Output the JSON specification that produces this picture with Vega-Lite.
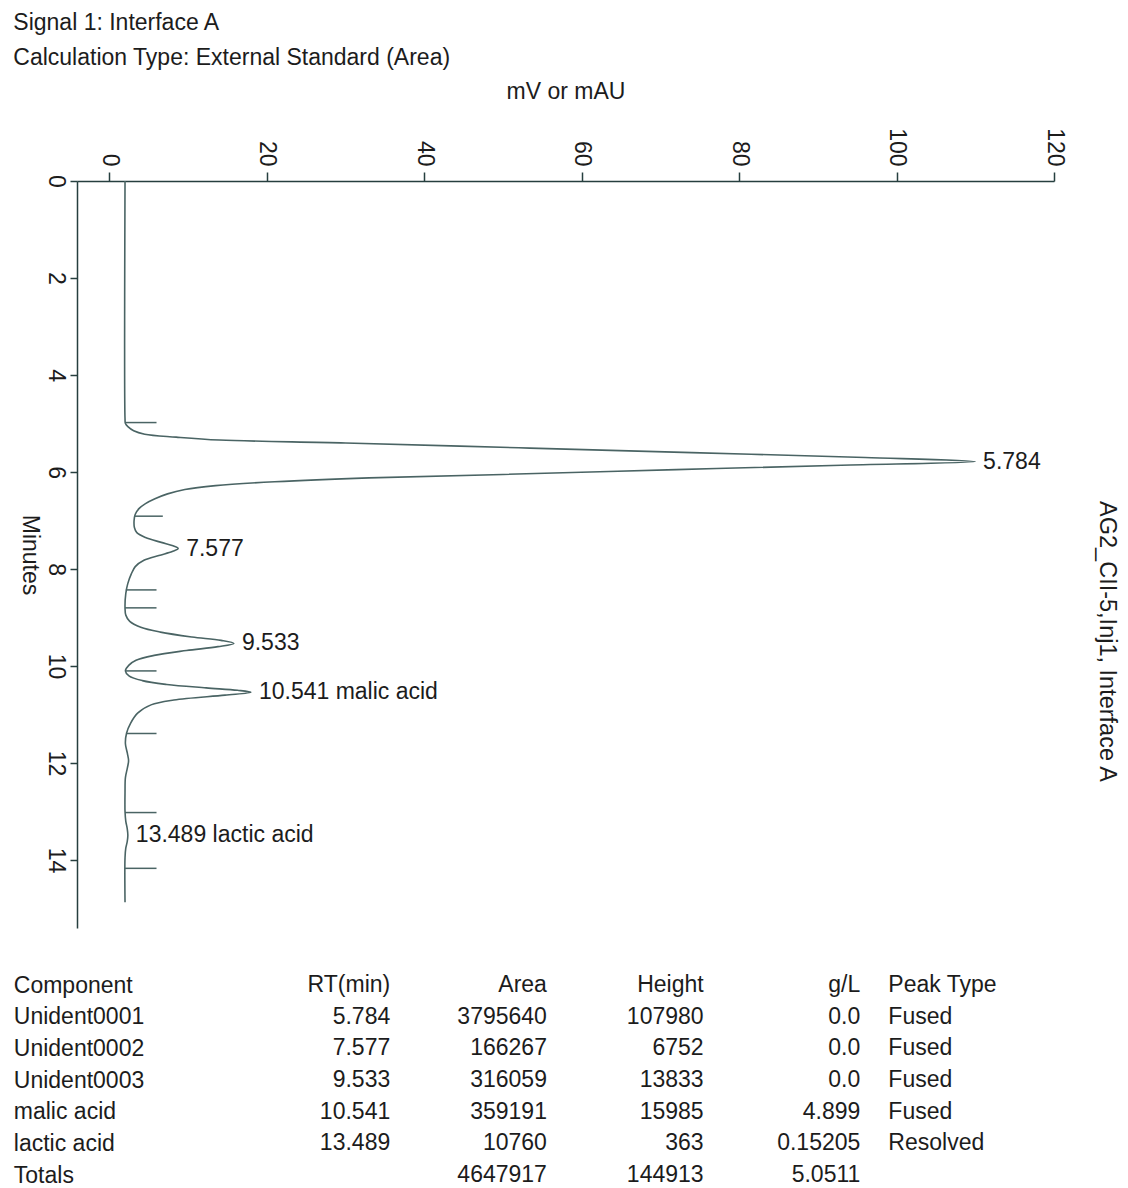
{
  "$schema": "https://vega.github.io/schema/vega-lite/v6.json",
  "background": "white",
  "padding": {"left": 13, "top": 11, "right": 14, "bottom": 0},
  "config": {
    "font": "Liberation Sans",
    "view": {"stroke": null},
    "axis": {
      "grid": false,
      "domainColor": "#263f3f",
      "tickColor": "#263f3f",
      "domainWidth": 1.5,
      "tickWidth": 1.5,
      "labelColor": "#1c1c1c",
      "titleColor": "#1c1c1c",
      "labelFont": "Liberation Sans",
      "titleFont": "Liberation Sans",
      "labelFontSize": 23,
      "titleFontSize": 23,
      "titleFontWeight": "normal"
    },
    "text": {"font": "Liberation Sans", "fontSize": 23, "color": "#1c1c1c"}
  },
  "title": {
    "text": ["Signal 1: Interface A", "Calculation Type: External Standard (Area)"],
    "anchor": "start",
    "frame": "bounds",
    "font": "Liberation Sans",
    "fontSize": 23,
    "fontWeight": "normal",
    "lineHeight": 35,
    "color": "#1c1c1c",
    "offset": 11
  },
  "datasets": {
    "trace": [
      {"min": 0, "mV": 2.0},
      {"min": 4.9, "mV": 2.0},
      {"min": 5.0, "mV": 2.05},
      {"min": 5.07, "mV": 2.4},
      {"min": 5.15, "mV": 3.1},
      {"min": 5.22, "mV": 4.5},
      {"min": 5.28, "mV": 8.5},
      {"min": 5.34, "mV": 14},
      {"min": 5.40, "mV": 30},
      {"min": 5.50, "mV": 52},
      {"min": 5.60, "mV": 74},
      {"min": 5.70, "mV": 96},
      {"min": 5.784, "mV": 109.98},
      {"min": 5.86, "mV": 93},
      {"min": 5.95, "mV": 72},
      {"min": 6.05, "mV": 50},
      {"min": 6.12, "mV": 33},
      {"min": 6.20, "mV": 21},
      {"min": 6.28, "mV": 13.5},
      {"min": 6.36, "mV": 9.6},
      {"min": 6.45, "mV": 7.4},
      {"min": 6.55, "mV": 5.8},
      {"min": 6.65, "mV": 4.6},
      {"min": 6.75, "mV": 3.8},
      {"min": 6.87, "mV": 3.3},
      {"min": 7.0, "mV": 3.15},
      {"min": 7.15, "mV": 3.2},
      {"min": 7.25, "mV": 3.5},
      {"min": 7.35, "mV": 4.6},
      {"min": 7.45, "mV": 6.6},
      {"min": 7.52, "mV": 8.1},
      {"min": 7.577, "mV": 8.75},
      {"min": 7.64, "mV": 8.0},
      {"min": 7.72, "mV": 6.3},
      {"min": 7.82, "mV": 4.4},
      {"min": 7.95, "mV": 3.3},
      {"min": 8.1, "mV": 2.8},
      {"min": 8.3, "mV": 2.35},
      {"min": 8.5, "mV": 2.1},
      {"min": 8.8, "mV": 2.0},
      {"min": 8.95, "mV": 2.1},
      {"min": 9.08, "mV": 2.6},
      {"min": 9.2, "mV": 4.0},
      {"min": 9.3, "mV": 6.5},
      {"min": 9.4, "mV": 10.5},
      {"min": 9.47, "mV": 14.2},
      {"min": 9.533, "mV": 15.83},
      {"min": 9.60, "mV": 13.8},
      {"min": 9.68, "mV": 9.8},
      {"min": 9.78, "mV": 5.7},
      {"min": 9.88, "mV": 3.4},
      {"min": 9.98, "mV": 2.5},
      {"min": 10.1, "mV": 2.05},
      {"min": 10.2, "mV": 2.5},
      {"min": 10.3, "mV": 4.2},
      {"min": 10.38, "mV": 7.3},
      {"min": 10.45, "mV": 12.3},
      {"min": 10.50, "mV": 16.3},
      {"min": 10.541, "mV": 17.99},
      {"min": 10.60, "mV": 14.7},
      {"min": 10.70, "mV": 8.2},
      {"min": 10.80, "mV": 5.3},
      {"min": 10.97, "mV": 3.6},
      {"min": 11.18, "mV": 2.7},
      {"min": 11.38, "mV": 2.2},
      {"min": 11.6, "mV": 2.05},
      {"min": 11.8, "mV": 2.3},
      {"min": 11.95, "mV": 2.45},
      {"min": 12.1, "mV": 2.3},
      {"min": 12.3, "mV": 2.05},
      {"min": 12.6, "mV": 2.0},
      {"min": 13.0, "mV": 2.0},
      {"min": 13.2, "mV": 2.1},
      {"min": 13.35, "mV": 2.28},
      {"min": 13.489, "mV": 2.36},
      {"min": 13.62, "mV": 2.28},
      {"min": 13.75, "mV": 2.1},
      {"min": 13.95, "mV": 2.0},
      {"min": 14.87, "mV": 2.0}
    ],
    "markers": [
      {"min": 4.98, "from": 2.0, "to": 6.0},
      {"min": 6.91, "from": 3.2, "to": 6.8},
      {"min": 8.43, "from": 2.1, "to": 6.0},
      {"min": 8.80, "from": 2.0, "to": 6.0},
      {"min": 10.10, "from": 2.05, "to": 6.0},
      {"min": 11.39, "from": 2.2, "to": 6.0},
      {"min": 13.02, "from": 2.0, "to": 6.0},
      {"min": 14.17, "from": 2.0, "to": 6.0}
    ],
    "peaks": [
      {"rt": 5.784, "apex": 109.98, "label": "5.784"},
      {"rt": 7.577, "apex": 8.75, "label": "7.577"},
      {"rt": 9.533, "apex": 15.83, "label": "9.533"},
      {"rt": 10.541, "apex": 17.99, "label": "10.541 malic acid"},
      {"rt": 13.489, "apex": 2.36, "label": "13.489 lactic acid"}
    ],
    "table": [
      {"comp": "Component", "rt": "RT(min)", "area": "Area", "height": "Height", "gl": "g/L", "type": "Peak Type"},
      {"comp": "Unident0001", "rt": "5.784", "area": "3795640", "height": "107980", "gl": "0.0", "type": "Fused"},
      {"comp": "Unident0002", "rt": "7.577", "area": "166267", "height": "6752", "gl": "0.0", "type": "Fused"},
      {"comp": "Unident0003", "rt": "9.533", "area": "316059", "height": "13833", "gl": "0.0", "type": "Fused"},
      {"comp": "malic acid", "rt": "10.541", "area": "359191", "height": "15985", "gl": "4.899", "type": "Fused"},
      {"comp": "lactic acid", "rt": "13.489", "area": "10760", "height": "363", "gl": "0.15205", "type": "Resolved"},
      {"comp": "Totals", "rt": "", "area": "4647917", "height": "144913", "gl": "5.0511", "type": ""}
    ]
  },
  "spacing": 46,
  "vconcat": [
    {
      "width": 977,
      "height": 747,
      "layer": [
        {
          "data": {"name": "trace"},
          "mark": {"type": "line", "interpolate": "catmull-rom", "color": "#4a6464", "strokeWidth": 1.6},
          "encoding": {
            "x": {
              "field": "mV",
              "type": "quantitative",
              "scale": {"domain": [-4.1, 120], "nice": false, "zero": false},
              "axis": {
                "orient": "top",
                "values": [0, 20, 40, 60, 80, 100, 120],
                "labelAngle": 90,
                "labelAlign": "right",
                "labelBaseline": "middle",
                "tickSize": 9,
                "labelPadding": 6,
                "title": "mV or mAU",
                "titlePadding": 24
              }
            },
            "y": {
              "field": "min",
              "type": "quantitative",
              "scale": {"domain": [0, 15.4], "nice": false, "zero": false, "reverse": true},
              "axis": {
                "orient": "left",
                "values": [0, 2, 4, 6, 8, 10, 12, 14],
                "labelAngle": 90,
                "labelAlign": "center",
                "labelBaseline": "top",
                "tickSize": 7,
                "labelPadding": 4,
                "title": "Minutes",
                "titleAngle": 90,
                "titlePadding": 26
              }
            },
            "order": {"field": "min", "type": "quantitative"}
          }
        },
        {
          "data": {"name": "markers"},
          "mark": {"type": "rule", "color": "#4a6464", "strokeWidth": 1.5},
          "encoding": {
            "x": {"field": "from", "type": "quantitative"},
            "x2": {"field": "to"},
            "y": {"field": "min", "type": "quantitative", "axis": null}
          }
        },
        {
          "data": {"name": "peaks"},
          "mark": {"type": "text", "align": "left", "baseline": "middle", "dx": 8},
          "encoding": {
            "x": {"field": "apex", "type": "quantitative"},
            "y": {
              "field": "rt",
              "type": "quantitative",
              "axis": {
                "orient": "right",
                "labels": false,
                "ticks": false,
                "domain": false,
                "title": "AG2_CII-5,Inj1, Interface A",
                "titleFontSize": 23.5,
                "titleY": 460,
                "titlePadding": 40
              }
            },
            "text": {"field": "label"}
          }
        }
      ],
      "resolve": {"axis": {"y": "independent"}}
    },
    {
      "width": 940,
      "height": 190,
      "data": {"name": "table"},
      "transform": [{"fold": ["rt", "area", "height", "gl", "type"], "as": ["col", "val"]}],
      "layer": [
        {
          "transform": [{"filter": "datum.col !== 'type'"}],
          "mark": {"type": "text", "align": "right", "baseline": "middle"},
          "encoding": {
            "x": {
              "field": "col",
              "type": "nominal",
              "bandPosition": 1,
              "scale": {"type": "band", "domain": ["rt", "area", "height", "gl", "type"], "paddingInner": 0.179, "paddingOuter": 0.589, "align": 1},
              "axis": null
            },
            "y": {
              "field": "comp",
              "type": "nominal",
              "sort": ["Component", "Unident0001", "Unident0002", "Unident0003", "malic acid", "lactic acid", "Totals"],
              "scale": {"type": "point", "padding": 0},
              "axis": {"orient": "left", "domain": false, "ticks": false, "labelAlign": "left", "labelBaseline": "middle", "labelPadding": 63.7, "title": null}
            },
            "text": {"field": "val"}
          }
        },
        {
          "transform": [{"filter": "datum.col === 'type'"}],
          "mark": {"type": "text", "align": "left", "baseline": "middle"},
          "encoding": {
            "x": {
              "field": "col",
              "type": "nominal",
              "bandPosition": 0,
              "scale": {"type": "band", "domain": ["rt", "area", "height", "gl", "type"], "paddingInner": 0.179, "paddingOuter": 0.589, "align": 1},
              "axis": null
            },
            "y": {
              "field": "comp",
              "type": "nominal",
              "sort": ["Component", "Unident0001", "Unident0002", "Unident0003", "malic acid", "lactic acid", "Totals"],
              "scale": {"type": "point", "padding": 0}
            },
            "text": {"field": "val"}
          }
        }
      ]
    }
  ]
}
